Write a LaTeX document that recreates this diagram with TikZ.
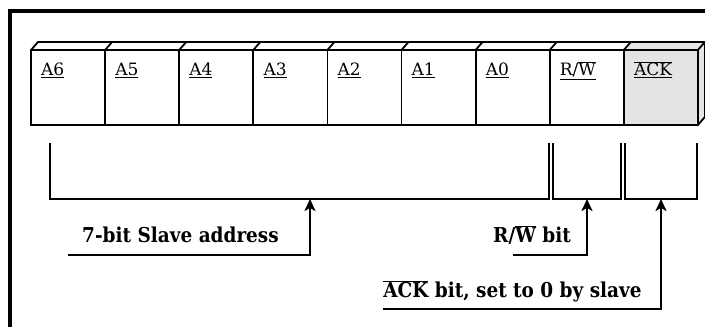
\documentclass[tikz,border=0pt]{standalone}
\usepackage{fontspec}
\setmainfont{DejaVu Serif}
\newfontfamily\descfont[FakeStretch=0.9]{DejaVu Serif}
\usetikzlibrary{arrows.meta,calc}
\definecolor{ackgray}{HTML}{E4E4E4}
\newcommand{\ovl}[1]{\ensuremath{\overline{\mbox{#1}}}}
\begin{document}
\begin{tikzpicture}[x=1pt,y=1pt,
  bitbox/.style={draw,line width=1.8pt,minimum width=74.1pt,minimum height=75pt,anchor=south west,inner sep=0pt,outer sep=0pt},
  bitlab/.style={font=\fontsize{17}{20}\selectfont,anchor=base west,inner sep=0pt},
  edge/.style={line width=1.8pt,line join=round},
  brk/.style={line width=2pt},
  arr/.style={line width=2pt,-{Stealth[length=12pt,width=11pt,inset=3pt]}},
  desc/.style={font=\descfont\bfseries\fontsize{20.5}{24}\selectfont,anchor=base,inner sep=0pt}
]
\useasboundingbox (0,0) rectangle (705,327);
\draw[line width=3.5pt] (10,0) -- (10,316) -- (706,316);
% boxes
\foreach \i/\t in {0/A6,1/A5,2/A4,3/A3,4/A2,5/A1,6/A0,7/R\slash\ovl{W}} {
  \node[bitbox] (b\i) at ({31+74.1*\i},202) {};
  \node[bitlab] (l\i) at ($(b\i.north west)+(10,-26)$) {\underline{\t}};
}
\node[bitbox,fill=ackgray] (b8) at ({31+74.1*8},202) {};
\node[bitlab] (l8) at ($(b8.north west)+(10,-26)$) {\underline{\ovl{ACK}}};
% 3D faces
\filldraw[edge,fill=ackgray] (b8.north west) -- ++(7,8) -- ++(74.1,0) -- ++(0,-75) -- (b8.south east) -- (b8.north east) -- cycle;
\draw[edge] (b0.north west) -- ++(7,8) -- ($(b8.north east)+(7,8)$);
\foreach \i in {1,...,7} { \draw[edge] (b\i.north west) -- ++(7,8); }
\draw[edge] (b8.north east) -- ++(7,8);
% brackets
\draw[brk] ($(b0.south west)+(19,-18)$) |- ($(b7.south west)+(-1,-74)$) -- ++(0,56);
\draw[brk] ($(b7.south west)+(3,-18)$) |- ($(b8.south west)+(-3,-74)$) -- ++(0,56);
\draw[brk] ($(b8.south west)+(1,-18)$) |- ($(b8.south east)+(-1,-74)$) -- ++(0,56);
\coordinate (k1) at (310,128);
\coordinate (k2) at (587,128);
\coordinate (k3) at (661,128);
% labels and arrows
\node[desc] (t1) at (180.5,84) {7-bit Slave address};
\node[desc] (t2) at (532,84) {R/\ovl{W} bit};
\node[desc] (t3) at (512.5,29) {\ovl{ACK} bit, set to 0 by slave};
\coordinate (s1) at (68,72);
\coordinate (s2) at (513,72);
\coordinate (s3) at (383,18);
\draw[arr] (s1) -| (k1);
\draw[arr] (s2) -| (k2);
\draw[arr] (s3) -| (k3);
\end{tikzpicture}
\end{document}
